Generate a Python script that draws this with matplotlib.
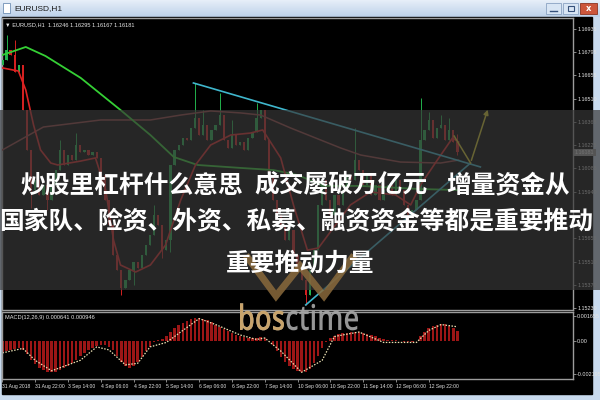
import numpy as np
import matplotlib.pyplot as plt
from matplotlib.patches import Rectangle, PathPatch, FancyArrowPatch
from matplotlib.colors import LinearSegmentedColormap
from matplotlib.textpath import TextPath
from matplotlib.font_manager import FontProperties
from matplotlib.transforms import Affine2D, blended_transform_factory

# EURUSD candles, one per 2 hours (bar 0 = 31 Aug 2018)
first_open = 1.16715
closes = [1.16746, 1.16807, 1.16776, 1.16672, 1.16715, 1.16440, 1.16196, 1.15951,
          1.16012, 1.15921, 1.15982, 1.15890, 1.15982, 1.16073, 1.16196, 1.16104,
          1.16165, 1.16134, 1.16226, 1.16183, 1.16196, 1.16165, 1.16183, 1.16147,
          1.16043, 1.15890, 1.15737, 1.15554, 1.15462, 1.15352, 1.15401, 1.15462,
          1.15511, 1.15475, 1.15554, 1.15615, 1.15676, 1.15798, 1.15737, 1.15584,
          1.15646, 1.16104, 1.16196, 1.16226, 1.16269, 1.16257, 1.16330, 1.16391,
          1.16287, 1.16348, 1.16257, 1.16318, 1.16348, 1.16409, 1.16257, 1.16208,
          1.16287, 1.16226, 1.16244, 1.16196, 1.16269, 1.16306, 1.16391, 1.16440,
          1.16257, 1.16043, 1.15890, 1.15798, 1.15737, 1.15646, 1.15707, 1.15554,
          1.15462, 1.15401, 1.15310, 1.15462, 1.15584, 1.15859, 1.16012, 1.15890,
          1.15798, 1.15921, 1.15859, 1.15951, 1.16043, 1.16012, 1.16134, 1.16073,
          1.15982, 1.16043, 1.15921, 1.15982, 1.15890, 1.15951, 1.15982, 1.15921,
          1.16012, 1.15951, 1.15859, 1.15798, 1.15829, 1.15890, 1.16257, 1.16318,
          1.16379, 1.16269, 1.16330, 1.16348, 1.16257, 1.16318, 1.16246, 1.16181]

# visible wicks
hi_bars = [1, 3, 14, 18, 37, 47, 49, 53, 56, 62, 86, 102, 104, 107, 109, 111]
hi_vals = [1.16898, 1.16868, 1.16257, 1.16299, 1.15859, 1.16605, 1.16440, 1.16544,
           1.16379, 1.16483, 1.16330, 1.16513, 1.16428, 1.16409, 1.16391, 1.16295]
lo_bars = [7, 11, 29, 32, 39, 41, 74, 99, 111]
lo_vals = [1.15841, 1.15829, 1.15310, 1.15370, 1.15536, 1.15572, 1.15249, 1.15756, 1.16167]

# moving averages, sampled points (bar, price)
ma_green_x = [0.0, 5.7, 10.5, 19.1, 28.8, 36.1, 41.8, 47.6, 58.1, 66.1, 72.0, 78.3, 87.4, 102.0, 111.3]
ma_green_y = [1.16776, 1.16825, 1.16770, 1.16636, 1.16440, 1.16287, 1.16153, 1.16104,
              1.16086, 1.16073, 1.16043, 1.15976, 1.15976, 1.15957, 1.15951]
ma_fast_x = [0.0, 3.9, 5.7, 7.6, 9.3, 11.8, 13.5, 19.1, 22.7, 25.2, 27.1, 28.8, 32.5, 36.1,
             39.8, 43.5, 47.1, 50.8, 55.7, 60.5, 63.5, 67.9, 71.0, 74.4, 77.1, 80.0, 84.9,
             89.8, 95.9, 99.6, 102.0, 106.1, 109.8, 111.3]
ma_fast_y = [1.16697, 1.16678, 1.16562, 1.16348, 1.16196, 1.16116, 1.16104, 1.16128,
             1.16147, 1.15951, 1.15646, 1.15493, 1.15450, 1.15493, 1.15615, 1.15890,
             1.16104, 1.16226, 1.16287, 1.16299, 1.16318, 1.16147, 1.15860, 1.15584,
             1.15597, 1.15695, 1.15860, 1.15939, 1.15921, 1.15860, 1.15982, 1.16134,
             1.16269, 1.16244]
ma_slow_x = [0.0, 10.0, 24.0, 36.1, 43.5, 50.8, 58.1, 63.0, 70.3, 82.5, 87.4, 97.1, 106.9, 111.3]
ma_slow_y = [1.16196, 1.16336, 1.16379, 1.16379, 1.16409, 1.16434, 1.16422, 1.16409,
             1.16330, 1.16208, 1.16165, 1.16122, 1.16116, 1.16134]

# drawn objects: triangle lines and the yellow forecast arrow
tri_upper = ([46.6, 116.6], [1.16605, 1.16092])
tri_lower = ([74.0, 114.2], [1.15249, 1.16116])
arrow_x = [110.2, 114.2, 118.6]
arrow_y = [1.16281, 1.16116, 1.16458]

# MACD(12,26,9) main value per bar, and signal line samples
macd = [-0.00075, -0.00068, -0.00060, -0.00052, -0.00047, -0.00060, -0.00085, -0.00125,
        -0.00155, -0.00180, -0.00195, -0.00205, -0.00210, -0.00205, -0.00195, -0.00180,
        -0.00165, -0.00145, -0.00125, -0.00100, -0.00080, -0.00060, -0.00045, -0.00035,
        -0.00030, -0.00030, -0.00038, -0.00060, -0.00100, -0.00140, -0.00170, -0.00180,
        -0.00165, -0.00140, -0.00110, -0.00070, -0.00040, -0.00010, 0.00005, 0.00015,
        0.00030, 0.00060, 0.00085, 0.00105, 0.00120, 0.00135, 0.00145, 0.00152,
        0.00155, 0.00150, 0.00138, 0.00125, 0.00110, 0.00095, 0.00080, 0.00065,
        0.00050, 0.00040, 0.00030, 0.00025, 0.00022, 0.00020, 0.00022, 0.00028,
        0.00020, 0.00000, -0.00030, -0.00070, -0.00110, -0.00140, -0.00165, -0.00185,
        -0.00200, -0.00210, -0.00205, -0.00185, -0.00150, -0.00100, -0.00050, -0.00010,
        0.00020, 0.00035, 0.00045, 0.00050, 0.00055, 0.00058, 0.00060, 0.00060,
        0.00055, 0.00048, 0.00040, 0.00030, 0.00020, 0.00012, 0.00008, 0.00005,
        0.00004, 0.00002, -0.00005, -0.00010, -0.00008, 0.00000, 0.00030, 0.00060,
        0.00085, 0.00100, 0.00110, 0.00115, 0.00112, 0.00100, 0.00085, 0.00064]
sig_x = [0, 5, 8, 12, 19, 23, 26, 30, 33, 36, 40, 44, 48, 52, 58, 62, 64, 68, 73, 78,
         81, 87, 93, 97, 101, 104, 107, 111]
sig_y = [-0.0008, -0.0005, -0.0013, -0.0020, -0.0013, -0.0004, -0.0006, -0.0016, -0.0015,
         -0.0004, -0.0001, 0.0007, 0.0015, 0.0011, 0.0004, 0.0001, 0.0002, -0.0007,
         -0.0021, -0.0013, 0.0003, 0.0006, -0.0001, -0.0001, -0.0001, 0.0007, 0.0011, 0.00095]

price_ticks = [1.16935, 1.16795, 1.16655, 1.16510, 1.16365, 1.16225, 1.16085,
               1.15940, 1.15655, 1.15510, 1.15370, 1.15230]
macd_ticks = [0.001655, 0.0, -0.002195]
macd_tick_labels = ['0.001655', '0.00', '-0.002195']
time_labels = ['31 Aug 2018', '31 Aug 22:00', '3 Sep 14:00', '4 Sep 06:00', '4 Sep 22:00',
               '5 Sep 14:00', '6 Sep 06:00', '6 Sep 22:00', '7 Sep 14:00', '10 Sep 06:00',
               '10 Sep 22:00', '11 Sep 14:00', '12 Sep 06:00', '12 Sep 22:00']
# banner text, first line in its three phrases
banner_top = ['炒股里杠杆什么意思', '成交屡破万亿元', '增量资金从']
banner_mid = '国家队、险资、外资、私募、融资资金等都是重要推动'
banner_end = '重要推动力量'

SMALL = ['Liberation Sans Narrow', 'Liberation Sans', 'DejaVu Sans']
CJK = ['Noto Sans CJK SC', 'DejaVu Sans']
W, H = 600, 400

fig = plt.figure(figsize=(6, 4), dpi=100)
fig.patch.set_facecolor('#c8daee')


def px_axes(z):
    a = fig.add_axes([0, 0, 1, 1], zorder=z)
    a.axis('off')
    a.patch.set_alpha(0)
    return a


def fig_rect(x0, y0, x1, y1):
    return [x0 / W, 1 - y1 / H, (x1 - x0) / W, (y1 - y0) / H]


# window frame, title bar
bg = px_axes(0)
bar_cmap = LinearSegmentedColormap.from_list('tb', ['#e6eef8', '#bed2ea'])
bg.imshow(np.linspace(0, 1, 17)[:, None], extent=(0, W, 17, 0), cmap=bar_cmap, aspect='auto')
bg.add_patch(Rectangle((2, 17), 590, 377, color='black'))
bg.add_patch(Rectangle((3, 3), 7, 10, fc='white', ec='#6f8fb5', lw=0.6))
bg.text(14, 9, 'EURUSD,H1', fontsize=6, color='#1a1a1a', va='center', family=SMALL)
bg.add_patch(Rectangle((546, 3), 15, 11, fc='#d8e5f4', ec='#8ba3c2', lw=0.6))
bg.plot([550, 557], [10.5, 10.5], color='#35507a', lw=1)
bg.add_patch(Rectangle((563, 3), 15, 11, fc='#d8e5f4', ec='#8ba3c2', lw=0.6))
bg.add_patch(Rectangle((567.5, 5.5), 6, 5.5, fc='none', ec='#35507a', lw=0.8))
bg.add_patch(Rectangle((580, 3), 17, 11, fc='#cc563c', ec='#8c3321', lw=0.6))
bg.text(588.5, 8.8, 'x', fontsize=6, color='white', ha='center', va='center', weight='bold')
bg.text(5, 25, '\u25bc EURUSD,H1  1.16246 1.16295 1.16167 1.16181', fontsize=4.1,
        color='#e8e8e8', va='center', family=SMALL)
bg.text(5, 318, 'MACD(12,26,9) 0.000641 0.000946', fontsize=4.1,
        color='#e8e8e8', va='center', family=SMALL)
bg.set_xlim(0, W)
bg.set_ylim(H, 0)

ax = fig.add_axes(fig_rect(2, 18, 573, 310), zorder=1)
mx = fig.add_axes(fig_rect(2, 312, 573, 379), zorder=1)
for a in (ax, mx):
    a.set_facecolor('none')
    for s in a.spines.values():
        s.set_color('#9c9c9c')
        s.set_linewidth(1)
    a.set_xlim(-0.1, 139.2)
    a.yaxis.tick_right()
    a.tick_params(axis='y', colors='#9c9c9c', labelcolor='#e4e4e4', length=2,
                  width=0.6, pad=1, labelsize=3.9)

# candles
n = len(closes)
idx = np.arange(n)
c = np.array(closes)
o = np.concatenate([[first_open], c[:-1]])
h = np.maximum(o, c)
l = np.minimum(o, c)
h[hi_bars] = hi_vals
l[lo_bars] = lo_vals
up = c >= o
cols = np.where(up, '#22b24c', '#d42020')
body = np.where(np.abs(c - o) < 0.00004, 0.00004, c - o)
ax.vlines(idx, l, h, colors=cols, lw=0.7, zorder=2)
ax.bar(idx, body, bottom=o, width=0.55, color=cols, zorder=3)

ax.plot(ma_slow_x, ma_slow_y, color='#93403f', lw=1.1, zorder=4)
ax.plot(ma_green_x, ma_green_y, color='#35d035', lw=1.3, zorder=4)
ax.plot(ma_fast_x, ma_fast_y, color='#dc2323', lw=1.2, zorder=4)
ax.plot(*tri_upper, color='#3fb6cc', lw=1.2, zorder=5)
ax.plot(*tri_lower, color='#3fb6cc', lw=1.2, zorder=5)
ax.plot(arrow_x[:2], arrow_y[:2], color='#d8cc2c', lw=1.1, zorder=5)
ax.add_patch(FancyArrowPatch((arrow_x[1], arrow_y[1]), (arrow_x[2], arrow_y[2]),
                             arrowstyle='-|>', mutation_scale=7, color='#d8cc2c',
                             lw=1.1, zorder=5))

ax.set_ylim(1.15218, 1.17002)
ax.set_yticks(price_ticks)
ax.set_yticklabels(['%.5f' % p for p in price_ticks], family=SMALL)
ax.set_xticks([])
ax.text(1.0 + 2 / 571, 1.16181, '1.16181', transform=blended_transform_factory(ax.transAxes, ax.transData),
        fontsize=3.9, color='white', va='center', family=SMALL, clip_on=False,
        bbox=dict(boxstyle='square,pad=0.25', fc='#9a9a9a', ec='none'))

# MACD panel
mx.bar(idx, macd, width=0.6, color='#9c1616')
mx.plot(sig_x, sig_y, color='#ece2b4', lw=0.9, ls=(0, (1.2, 1.2)))
mx.set_ylim(-0.00255, 0.00194)
mx.set_yticks(macd_ticks)
mx.set_yticklabels(macd_tick_labels, family=SMALL)
mx.set_xticks(np.arange(0, 8 * len(time_labels), 8))
mx.set_xticklabels(time_labels, family=SMALL)
mx.tick_params(axis='x', colors='#9c9c9c', labelcolor='#e4e4e4', length=2, width=0.6,
               pad=1.5, labelsize=3.6)
for lbl in mx.get_xticklabels():
    lbl.set_horizontalalignment('left')

# banner and watermark on top
fg = px_axes(5)
fg.add_patch(Rectangle((0, 110), W, 180, color='#373737', alpha=0.7, lw=0))
fg.plot([248, 276, 300, 324, 352], [258, 296, 266, 296, 258], color='#8a6a3c',
        lw=5, alpha=0.85, solid_joinstyle='miter')
txt = dict(fontsize=17.8, weight='bold', color='white', family=CJK)
for x0, s in zip([20, 254, 446], banner_top):
    fg.text(x0, 192.5, s, **txt)
fg.text(-1, 229.5, banner_mid, **txt)
fg.text(226, 270.5, banner_end, **txt)

fp = FontProperties(family='Open Sans', weight='semibold')
full = TextPath((0, 0), 'bosctime', size=1, prop=fp)
ext = full.get_extents()
tr = Affine2D().translate(-ext.x0, 0).scale(118 / ext.width, -27 / ext.height).translate(240, 330)
fg.add_patch(PathPatch(tr.transform_path(full), fc='#a4a4a4', ec='none', alpha=0.92))
fg.add_patch(PathPatch(tr.transform_path(TextPath((0, 0), 'bos', size=1, prop=fp)),
                       fc='#c7a36b', ec='none'))
fg.set_xlim(0, W)
fg.set_ylim(H, 0)

fig.savefig('out.png', dpi=100, facecolor=fig.get_facecolor())
